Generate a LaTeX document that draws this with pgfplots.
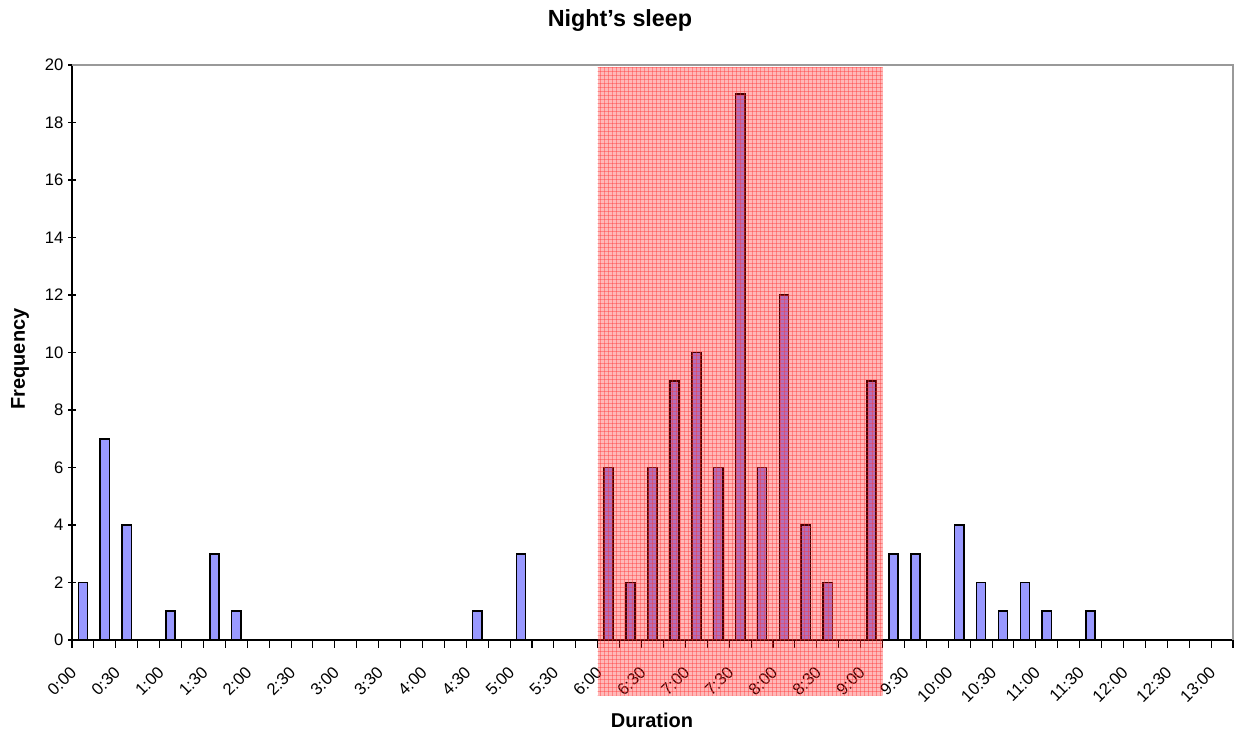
\documentclass[border=0pt]{standalone}
\usepackage{fontspec}
\setmainfont{Liberation Sans}
\usepackage{pgfplots}
\pgfplotsset{compat=1.18}
\usetikzlibrary{patterns}
\definecolor{barblue}{RGB}{153,153,255}
\begin{document}
\begin{tikzpicture}
\useasboundingbox (0,0) rectangle (929.25pt,551.25pt);
\begin{axis}[
  at={(54pt,71.25pt)}, anchor=south west,
  scale only axis,
  width=870.75pt, height=431.25pt,
  xmin=0, xmax=53, ymin=0, ymax=20,
  axis lines*=left,
  axis line style={black, line width=1pt, -},
  tick align=center,
  tick style={black, line width=0.8pt},
  major tick length=6pt,
  minor tick length=6pt,
  xtick={0,2,...,52},
  minor xtick={1,3,...,53},
  xticklabels={0:00,0:30,1:00,1:30,2:00,2:30,3:00,3:30,4:00,4:30,5:00,5:30,6:00,6:30,7:00,7:30,8:00,8:30,9:00,9:30,10:00,10:30,11:00,11:30,12:00,12:30,13:00},
  x tick label style={rotate=45, anchor=north east, font=\fontsize{12.5}{14}\selectfont, xshift=-7.2pt, yshift=-4.2pt},
  ytick={0,2,...,20},
  y tick label style={font=\fontsize{12.5}{14}\selectfont},
  /pgf/number format/assume math mode=true,
  clip=false,
  ybar, bar width=0.42,
]
\addplot[fill=barblue, draw=black, line width=1.2pt, bar shift=0pt] coordinates {
 (0.5,2) (1.5,7) (2.5,4) (4.5,1) (6.5,3) (7.5,1) (18.5,1) (20.5,3)
 (24.5,6) (25.5,2) (26.5,6) (27.5,9) (28.5,10) (29.5,6) (30.5,19) (31.5,6)
 (32.5,12) (33.5,4) (34.5,2) (36.5,9) (37.5,3) (38.5,3) (40.5,4) (41.5,2)
 (42.5,1) (43.5,2) (44.5,1) (46.5,1)
};
\draw[gray!80, line width=1pt] (rel axis cs:0,1) -- (rel axis cs:1,1) -- (rel axis cs:1,0);
\fill[red, fill opacity=0.28] (axis cs:24,19.93) rectangle (axis cs:37,-1.92);
\fill[pattern=grid, pattern color=red!80, opacity=0.4] (axis cs:24,19.93) rectangle (axis cs:37,-1.92);
\end{axis}
\node[font=\bfseries\fontsize{17.5}{20}\selectfont] at (465pt,536pt) {Night's sleep};
\node[font=\bfseries\fontsize{15}{17}\selectfont, rotate=90] at (15pt,282pt) {Frequency};
\node[font=\bfseries\fontsize{15}{17}\selectfont] at (489pt,11pt) {Duration};
\end{tikzpicture}
\end{document}
